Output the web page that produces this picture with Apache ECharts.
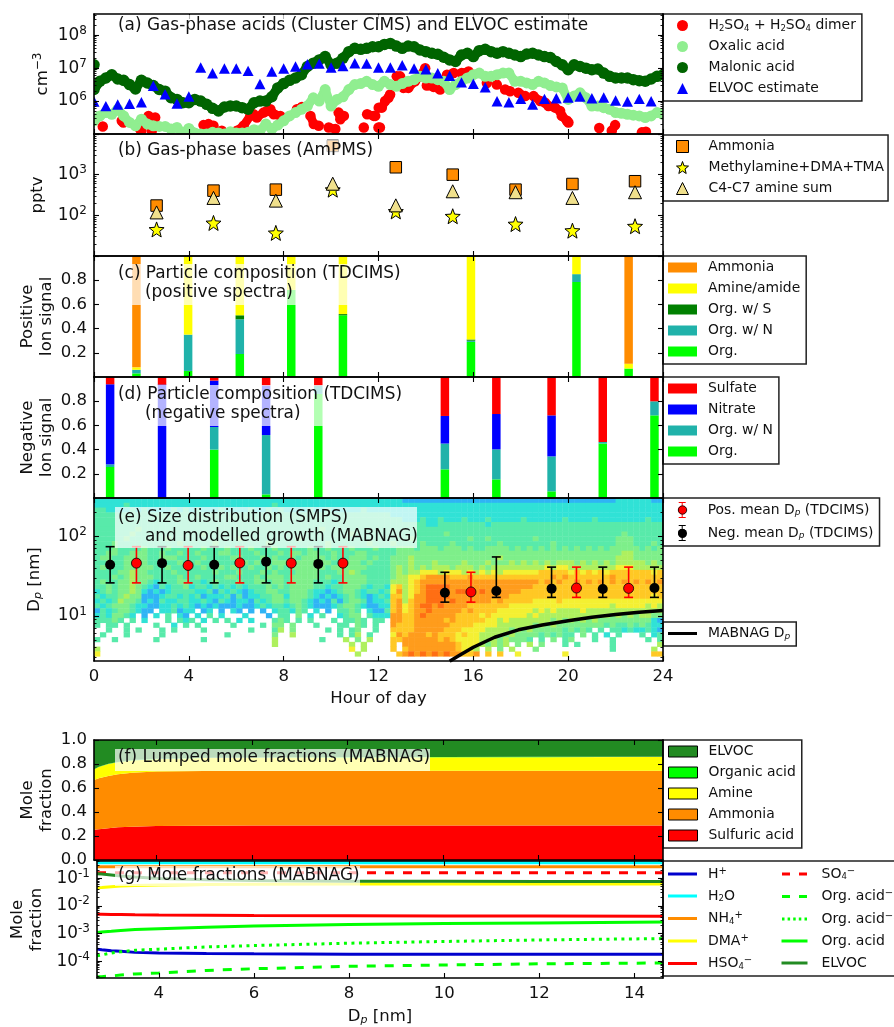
<!DOCTYPE html>
<html>
<head>
<meta charset="utf-8">
<style>html,body{margin:0;padding:0;background:#fff}#c{width:894px;height:1027px}</style>
<script src="https://cdn.jsdelivr.net/npm/echarts@6/dist/echarts.min.js"></script>
</head>
<body>
<div id="c"></div>
<script>
// ---------- DATA ----------
const quarterHours = Array.from({length: 97}, (_, i) => i / 4);
const malonicLog10 = [6.35,6.6,6.7,6.8,6.67,6.63,6.5,6.37,6.63,6.55,6.47,6.35,6.3,6.1,6.05,5.95,5.95,6.05,6.0,5.9,5.78,5.7,5.82,5.85,5.85,5.8,5.75,5.95,6.0,6.0,6.13,6.4,6.53,6.63,6.7,6.8,7.05,7.15,7.25,7.35,7.1,7.15,7.3,7.5,7.6,7.57,7.6,7.65,7.65,7.72,7.75,7.67,7.6,7.67,7.65,7.55,7.5,7.45,7.42,7.33,7.25,7.2,7.4,7.45,7.35,7.53,7.57,7.5,7.45,7.5,7.45,7.4,7.35,7.43,7.45,7.4,7.35,7.32,7.2,7.1,6.95,7.1,7.05,7.0,6.95,6.97,6.85,6.75,6.7,6.7,6.7,6.65,6.62,6.6,6.67,6.75,6.8];
const malonicExtra = [0, 7.1];
const oxalicLog10 = [5.4,5.55,5.65,5.6,5.75,5.55,5.35,5.25,5.45,5.3,5.25,5.23,5.23,5.15,5.2,5.03,5.17,5.03,5.0,5.0,5.05,5.03,5.0,5.07,5.03,5.03,5.05,5.13,5.1,5.3,5.15,5.27,5.4,5.55,5.65,5.75,5.85,6.1,6.0,6.35,5.85,6.05,6.13,6.35,6.5,6.53,6.6,6.5,6.45,6.6,6.5,6.45,6.53,6.6,6.65,6.75,6.7,6.7,6.65,6.6,6.35,6.5,6.6,6.7,6.8,6.85,6.75,6.75,6.8,6.85,6.85,6.6,6.6,6.55,6.5,6.6,6.55,6.47,6.43,6.4,6.05,6.15,6.25,6.1,5.85,5.85,5.8,5.75,5.65,5.63,5.6,5.57,5.55,5.5,5.55,5.65,5.6];
const sulfuricHours = [.37,1.17,1.24,1.94,2.0,2.3,2.44,2.5,2.58,4.62,4.83,5.04,5.39,5.75,6.03,6.31,6.59,6.73,6.87,7.15,7.3,7.44,7.58,7.86,8.56,8.77,9.13,9.27,9.48,9.9,10.18,10.32,10.39,10.54,11.38,11.52,11.8,11.86,12.0,12.01,12.06,12.14,12.28,12.42,12.49,12.77,12.91,13.05,13.26,13.54,13.75,13.97,14.04,14.32,14.6,14.89,15.17,15.51,15.8,16.57,16.99,17.34,17.55,17.9,18.19,18.54,18.82,19.03,19.17,19.45,19.66,19.73,19.95,20.01,21.31,21.84,21.98,23.11,23.28];
const sulfuricLog10 = [5.23,5.4,5.35,5.15,5.1,5.55,5.1,5.45,5.5,5.27,5.3,5.25,5.1,5.03,5.1,5.25,5.55,5.6,5.5,5.65,5.7,5.75,5.6,5.55,5.75,5.82,5.55,5.3,5.25,5.2,5.15,5.65,5.45,5.55,5.2,5.6,5.55,5.55,5.2,5.8,5.2,5.8,6.0,6.1,6.2,6.75,6.75,6.4,6.4,6.6,6.75,7.0,6.47,6.43,6.35,6.8,6.85,6.85,6.9,6.55,6.5,6.35,6.3,6.25,6.15,6.15,6.0,5.95,5.85,5.8,5.7,5.55,5.4,5.35,5.18,5.1,5.27,5.05,5.07];
const elvocHours = [0,.5,1,1.5,2,2.5,3,3.5,4,4.5,5,5.5,6,6.5,7,7.5,8,8.5,9,9.5,10,10.5,11,11.5,12,12.5,13,13.5,14,14.5,15,15.5,16,16.5,17,17.5,18,18.5,19,19.5,20,20.5,21,21.5,22,22.5,23,23.5];
const elvocLog10 = [5.97,5.83,5.88,5.9,5.95,6.45,6.19,5.91,6.12,7.0,6.83,6.97,6.97,6.9,6.5,6.88,6.97,7.03,7.1,7.12,7.0,7.05,7.13,7.12,7.0,7.0,7.07,6.97,6.95,6.83,6.75,6.55,6.51,6.4,5.98,5.95,6.05,5.88,6.05,6.07,6.09,6.12,6.07,6.09,6.0,5.97,6.05,5.98];

const baseHours = [2.64,5.04,7.67,10.07,12.73,15.13,17.78,20.18,22.82];
const ammoniaPptv = [174,405,428,5100,1520,1000,428,590,690];
const methylaminePptv = [45,65,37,428,125,95,61,42,54];
const amineSumPptv = [118,268,230,600,176,390,370,268,370];

const posHours = [1.79,3.97,6.15,8.32,10.5,15.9,20.35,22.55];
const posOrg = [.03,.05,.19,.72,.51,.29,.785,.07];
const posOrgN = [.03,.30,.287,0,0,.01,.065,0];
const posOrgS = [0,0,.033,0,.01,.01,0,0];
const posAmine = [.02,.65,.49,.28,.48,.69,.15,.04];
const posAmmonia = [.92,0,0,0,0,0,0,.89];

const negHours = [.68,2.87,5.07,7.26,9.46,14.8,16.97,19.3,21.46,23.64];
const negOrg = [.256,0,.40,.03,.86,.237,.154,.055,.45,.683];
const negOrgN = [.022,0,.187,.49,.07,.213,.248,.289,.013,.116];
const negNitrate = [.662,.937,.383,.41,0,.228,.292,.339,0,0];
const negSulfate = [.06,.063,.03,.07,.07,.322,.306,.317,.537,.201];

const posDpHours = [1.79,3.97,6.15,8.32,10.5,15.9,20.35,22.55];
const posDp = [46,43,46.3,46,46,20,22.4,22.2];
const posDpHigh = [74,74,74,74,74,35.3,41,41];
const posDpLow = [26,26,26,26,26,14.9,17.1,17.1];
const negDpHours = [.68,2.87,5.07,7.26,9.46,14.8,16.97,19.3,21.46,23.64];
const negDp = [44,46,44,48,45,19.5,20.6,22,21.8,22.4];
const negDpHigh = [74,74,74,74,74,35.3,55,41,41,41];
const negDpLow = [26,26,26,26,26,14.9,17.1,17.1,17.1,17.1];
const mabnagHours = [15,15.4,16,16.9,17.9,18.9,20,21,22,23,24];
const mabnagDp = [2.7,3.18,4.05,5.4,6.7,7.7,8.7,9.6,10.4,11.1,11.7];

// Size distribution: one string per size bin (largest first), one character per 15 min.
// 0-9 = colour level, . = no data.
const sizeDist = [
"2222222222222222 2222222222222222 2222222222222222 2222111111111111 1111111111111111 1111111122222211",
"2222232222222222 2222222222222232 2222222222222222 2222222222222222 2222222222222222 2222222222222222",
"3322223232222323 2322232222322323 2222322322222322 2222222222222222 2222222222222222 2222222222222222",
"3333333333333333 3333333333333333 3333333333333333 3322222222222222 2222222222222222 2222222222222222",
"3333333333333333 3333333333333333 3333333333333333 3333222322322232 2232222232222223 2222322222222322",
"3333333333333333 3333333333333333 3333333333333333 3333333322333333 3323333333333333 3333333333333333",
"3333333433333333 3333333333333333 3333334333333333 3333333333333333 3333333333333333 3333333333333333",
"3333334333333333 3343333333333333 3333333333343333 3333333333343333 3333333333333333 3333333334333333",
"3333343333334333 3333333343333333 3343333333333333 3333343333333334 3343333333433333 3333333344433333",
"3334333333333343 3333433333333433 3333333433333343 3343333433334333 3333433333333433 3333333344433343",
"3334333343334333 3343334333433343 3333433433343334 3334443444344434 3344443434343434 3434343444443434",
"3344334443343343 3433344333343334 3443443343334433 3334444444444444 4444444444444444 4444444445544444",
"3443344443344433 3343333443334343 3434444343344434 3344454444444444 4444544444444444 4444444455544444",
"3343344443343343 3433433334343344 4344444433444343 3344454445444454 4454445454545455 5454545455555454",
"3433344444334334 3343343433433434 3444444344444433 3345454545554555 4545555555556566 5555555566655555",
"3333445443333433 3333433343334343 3344443334454333 3345455666566656 5656566666677777 6767676777777767",
"3334345444333343 3433334433343444 3444443433444433 3345566788887778 7777777777777878 7777777877777777",
"3433445443233344 3323433343344344 3444433323444433 3355567888888888 8888888888878787 7878787878787878",
"3343445432132334 2332323232333434 3444433233444323 3267567899998888 8888888888777777 7777777777777777",
"2343445421212333 3223132321233443 3444322123443233 2368567899998998 8988888877777777 7777777777777777",
"3233454411123323 2312223131223344 2444321212343212 3277568899998888 8888887777777777 7777777777777767",
"2323544312132233 2232132122132344 3443212131344312 2378578899989888 8887877777666676 6666666666666666",
"3234443221122323 2121211121123233 2343211123443211 2278678998988887 7777776666666666 6666666566666565",
"1323443211.22312 2.12.1.21.1.1.23 3243.2.1.3343.21 1378678898888878 7777666666565655 5565555555555555",
"2324432.1.2.3.21 .2.3.2...2...1.3 3.4.2.3..2344.32 2288778988888777 7676666665655555 5555555454545544",
"33343.3.2...3.32 3.2.3.3.2.2...34 3.3.3...3.3343.3 3.88778888878777 7766565555555454 5454544444444421",
"3.33.3....3..2.3 .3.....3....3.44 .4...3...33.43.3 ..87778888887777 6666555555454544 4444443433434322",
"..3..3.3...3.3.. ..3.......3...35 .4.....3.3.34..3 ..77778888877766 6655554545444443 4343.3.332322321",
".3...3.....3.... ......3.......4. .5.......3.35.3. ..68788878777676 6555545444434343 3.4.3.2.3...3.23",
"3..3......3..... ..3...........5. ......3...5.4.5. ..77888888787666 6555454443.3.4.3 4...3..3.....3.3",
"................ ..............5. ...........5.5.. ..7.888888888766 654545.4.5.4...3 .3.....3.......5",
"5............... ................ ...........6.5.. ..7.788888888766 5.5.4.5...4..... .......3......5.",
"6............... ................ ............5... ...7898989898877 8.7.7..6.......6 ..............77",
"................ ................ ................ ................ ................ ................"
];

const massDiam = [2.7,2.8,3,3.2,3.5,4,5,6,8,10,12,14.6];
const lumpSulfuric = [.252,.257,.265,.272,.278,.283,.285,.287,.287,.287,.287,.287];
const lumpAmmonia = [.415,.425,.435,.443,.45,.454,.456,.456,.457,.457,.457,.457];
const lumpAmine = [.088,.093,.10,.10,.102,.103,.109,.109,.111,.112,.113,.114];
const lumpOrgAcid = [.002,.002,.002,.002,.003,.003,.003,.003,.003,.003,.003,.003];
const lumpElvoc = [.243,.223,.198,.183,.167,.157,.147,.145,.142,.141,.14,.139];

const fracH2O = [.36,.36,.36,.36,.36,.36,.36,.36,.36,.36,.36,.36];
const fracNH4 = [.257,.257,.257,.257,.257,.257,.257,.257,.257,.257,.257,.257];
const fracSO4 = [.158,.158,.158,.158,.158,.158,.158,.158,.158,.158,.158,.158];
const fracElvoc = [.145,.14,.13,.12,.11,.098,.087,.082,.078,.077,.076,.076];
const fracDMA = [.045,.046,.049,.052,.054,.057,.059,.06,.061,.061,.062,.062];
const fracHSO4 = [.005,.005,.0049,.0049,.0048,.0047,.0046,.0045,.0044,.0043,.0043,.0042];
const fracOrgAcid = [.0011,.00115,.00122,.0013,.0014,.0015,.0017,.00186,.00213,.00229,.00243,.00263];
const fracOrgAcid2 = [.000158,.00017,.0002,.00022,.00025,.000275,.00033,.00037,.00045,.00052,.00059,.00066];
const fracH = [.000275,.00026,.00024,.00023,.00021,.0002,.00019,.000186,.00018,.00018,.000178,.000178];
const fracOrgAcid1 = [2.76e-5,2.8e-5,2.95e-5,3.2e-5,3.5e-5,3.8e-5,4.7e-5,5.4e-5,6.6e-5,7.4e-5,8.1e-5,8.7e-5];

const hourTicks = [0,4,8,12,16,20,24];
const sizeTicks = [4,6,8,10,12,14];

// ---------- HELPERS ----------
const FONT = '"DejaVu Sans"';
const INK = '#111';
const zip = (a, b) => a.map((v, i) => [v, b[i]]);
const pow10 = a => a.map(v => Math.pow(10, v));
const logMinor = (lo, hi) => { const o = []; for (let e = Math.floor(lo); e <= Math.ceil(hi); e++) for (let m = 2; m < 10; m++) { const v = e + Math.log10(m); if (v >= lo && v <= hi) o.push(v); } return o; };
const intRange = (lo, hi) => { const o = []; for (let e = Math.ceil(lo); e <= Math.floor(hi); e++) o.push(e); return o; };

const richTick = {
  base: {fontFamily: FONT, fontSize: 16.9, color: INK},
  sup: {fontFamily: FONT, fontSize: 12, color: INK, padding: [0, 0, 9, 0]}
};
const richName = {
  sup: {fontFamily: FONT, fontSize: 12, color: INK, padding: [0, 0, 9, 0]},
  sub: {fontFamily: FONT, fontSize: 11, fontStyle: 'italic', color: INK, padding: [7, 0, 0, 0]}
};
const grids = [], xAxes = [], yAxes = [];
const spine = {show: true, onZero: false, lineStyle: {color: '#000', width: 1.6}};

function panel(cfg) {
  const g = grids.length;
  grids.push({left: 94, width: 569, top: cfg.top, height: cfg.height, containLabel: false, show: false});
  const xi = xAxes.length;
  const xBase = {type: 'value', gridIndex: g, min: cfg.xMin, max: cfg.xMax, splitLine: {show: false}, z: 5, axisLine: spine,
    axisTick: {show: true, inside: true, length: 5, customValues: cfg.xTicks, lineStyle: {color: '#000', width: 1.1}}};
  xAxes.push(Object.assign({}, xBase, {position: 'bottom',
    axisLabel: cfg.xName ? {show: true, customValues: cfg.xTicks, margin: 7, fontFamily: FONT, fontSize: 16.5, color: INK, showMinLabel: true, showMaxLabel: true} : {show: false},
    name: cfg.xName || '', nameLocation: 'middle', nameGap: cfg.xNameGap || 30,
    nameTextStyle: {fontFamily: FONT, fontSize: 16.5, color: INK, rich: richName}}));
  xAxes.push(Object.assign({}, xBase, {position: 'top', axisLabel: {show: false}}));

  const yi = yAxes.length;
  const lin = cfg.log ? [Math.log10(cfg.yMin), Math.log10(cfg.yMax)] : [cfg.yMin, cfg.yMax];
  const major = cfg.log ? intRange(lin[0], lin[1]) : cfg.yTicks;
  const labels = cfg.yLabels;
  const fmt = cfg.log ? v => `{base|10}{sup|${v}}` : v => v.toFixed(1);
  yAxes.push({type: cfg.log ? 'log' : 'value', logBase: 10, gridIndex: g, position: 'left', min: cfg.yMin, max: cfg.yMax, z: 5,
    axisLine: spine, axisTick: {show: false}, axisLabel: {show: false}, splitLine: {show: false},
    name: cfg.yName, nameLocation: 'middle', nameRotate: 90, nameGap: cfg.yNameGap,
    nameTextStyle: {fontFamily: FONT, fontSize: 16.5, lineHeight: 19, color: INK, rich: richName}});
  const tickLeft = {type: 'value', gridIndex: g, position: 'left', min: lin[0], max: lin[1], z: 5, splitLine: {show: false},
    axisLine: {show: false, onZero: false},
    axisTick: {show: true, inside: true, length: 5, customValues: major, lineStyle: {color: '#000', width: 1.1}}};
  yAxes.push(Object.assign({}, tickLeft, {axisLabel: {show: true, customValues: labels, formatter: fmt, margin: 7, fontFamily: FONT, fontSize: 16.5, color: INK, rich: richTick, showMinLabel: true, showMaxLabel: true}}));
  yAxes.push(Object.assign({}, tickLeft, {position: 'right', axisLine: spine, axisLabel: {show: false}}));
  if (cfg.log) {
    const minor = logMinor(lin[0], lin[1]);
    const m = Object.assign({}, tickLeft, {axisLabel: {show: false},
      axisTick: {show: true, inside: true, length: 2.5, customValues: minor, lineStyle: {color: '#000', width: .9}}});
    yAxes.push(m);
    yAxes.push(Object.assign({}, m, {position: 'right'}));
  }
  return {xAxisIndex: xi, yAxisIndex: yi};
}

const axA = panel({top: 14, height: 120, xMin: 0, xMax: 24, xTicks: hourTicks, log: true, yMin: 1e5, yMax: 4.4e8, yLabels: [6, 7, 8], yName: 'cm{sup|−3}', yNameGap: 42});
const axB = panel({top: 134, height: 122, xMin: 0, xMax: 24, xTicks: hourTicks, log: true, yMin: 10, yMax: 1e4, yLabels: [2, 3], yName: 'pptv', yNameGap: 47});
const axC = panel({top: 256, height: 121, xMin: 0, xMax: 24, xTicks: hourTicks, yMin: 0, yMax: 1, yTicks: [.2,.4,.6,.8], yLabels: [.2,.4,.6,.8], yName: 'Positive\nIon signal', yNameGap: 38});
const axD = panel({top: 377, height: 121, xMin: 0, xMax: 24, xTicks: hourTicks, yMin: 0, yMax: 1, yTicks: [.2,.4,.6,.8], yLabels: [.2,.4,.6,.8], yName: 'Negative\nIon signal', yNameGap: 38});
const axE = panel({top: 498, height: 163, xMin: 0, xMax: 24, xTicks: hourTicks, xName: 'Hour of day', xNameGap: 29, log: true, yMin: 2.72, yMax: 302, yLabels: [1, 2], yName: 'D{sub|p} [nm]', yNameGap: 50});
const axF = panel({top: 740, height: 120, xMin: 2.7, xMax: 14.6, xTicks: sizeTicks, yMin: 0, yMax: 1, yTicks: [0,.2,.4,.6,.8,1], yLabels: [0,.2,.4,.6,.8,1], yName: 'Mole\nfraction', yNameGap: 38});
const axG = panel({top: 861, height: 121, xMin: 2.7, xMax: 14.6, xTicks: sizeTicks, xName: 'D{sub|p} [nm]', xNameGap: 30, log: true, yMin: 2.5e-5, yMax: .415, yLabels: [-1,-2,-3,-4], yName: 'Mole\nfraction', yNameGap: 51});

// ---------- SERIES ----------
const series = [];
function marks(ax, name, xs, ys, shape, color, size, joinDx, joinDy) {
  series.push(Object.assign({type: 'custom', name, clip: true, z: 3, animation: false, silent: true, progressive: 0,
    itemStyle: {color},
    encode: {x: 0, y: 1},
    data: zip(xs, ys),
    renderItem: (p, api) => {
      const c = api.coord([api.value(0), api.value(1)]);
      if (shape === 'circle') {
        const kids = [{type: 'circle', shape: {cx: c[0], cy: c[1], r: size / 2}, style: {fill: color}}];
        const i = p.dataIndex;
        if (joinDx && i + 1 < xs.length) {
          const dx = xs[i + 1] - xs[i], dy = Math.abs(Math.log10(ys[i + 1] / ys[i]));
          if (dx > 0 && dx <= joinDx && dy <= joinDy) {
            const n = api.coord([xs[i + 1], ys[i + 1]]);
            kids.push({type: 'line', shape: {x1: c[0], y1: c[1], x2: n[0], y2: n[1]}, style: {stroke: color, lineWidth: size * .82, lineCap: 'round'}});
          }
        }
        return {type: 'group', children: kids};
      }
      const r = size / 2;
      return {type: 'polygon', shape: {points: [[c[0], c[1] - r * 1.05], [c[0] + r, c[1] + r * .85], [c[0] - r, c[1] + r * .85]]}, style: {fill: color}};
    }}, ax));
}
marks(axA, 'a:sulfuric', sulfuricHours, pow10(sulfuricLog10), 'circle', '#ff0000', 10.5, .3, .3);
marks(axA, 'a:oxalic', quarterHours, pow10(oxalicLog10), 'circle', '#90ee90', 11, .26, .6);
marks(axA, 'a:malonic', quarterHours.concat(malonicExtra[0]), pow10(malonicLog10.concat(malonicExtra[1])), 'circle', '#006400', 11.5, .26, .6);
marks(axA, 'a:elvoc', elvocHours, pow10(elvocLog10), 'triangle', '#0000ff', 11);

const STAR = 'path://M12,0L15,8.6L24,9.2L17,15L19.4,24L12,19L4.6,24L7,15L0,9.2L9,8.6Z';
const SQUARE = 'path://M0,0H10V10H0Z';
const TRI = 'path://M5,0L10,10H0Z';
const edged = {borderColor: '#000', borderWidth: 1};
const solid = c => Object.assign({color: c, opacity: 1}, edged);
series.push(Object.assign({type: 'scatter', name: 'b:ammonia', symbol: 'rect', symbolSize: 11.5, z: 3, itemStyle: solid('#ff8c00'), data: zip(baseHours, ammoniaPptv)}, axB));
series.push(Object.assign({type: 'scatter', name: 'b:methyl', symbol: STAR, symbolSize: 15, z: 3, itemStyle: solid('#ffff00'), data: zip(baseHours, methylaminePptv)}, axB));
series.push(Object.assign({type: 'scatter', name: 'b:c4c7', symbol: 'triangle', symbolSize: 13, z: 3, itemStyle: solid('#f0e08c'), data: zip(baseHours, amineSumPptv)}, axB));

// stacked marks: value first, hour second, so that the stack sums the value column
function bars(ax, stack, name, xs, ys, color) {
  series.push(Object.assign({type: 'bar', name, stack, barWidth: 8.5, z: 2, itemStyle: {color}, encode: {x: 1, y: 0}, data: zip(ys, xs)}, ax));
}
bars(axC, 'c', 'c:org', posHours, posOrg, '#00ff00');
bars(axC, 'c', 'c:orgn', posHours, posOrgN, '#20b2aa');
bars(axC, 'c', 'c:orgs', posHours, posOrgS, '#008000');
bars(axC, 'c', 'c:amine', posHours, posAmine, '#ffff00');
bars(axC, 'c', 'c:ammonia', posHours, posAmmonia, '#ff8c00');
bars(axD, 'd', 'd:org', negHours, negOrg, '#00ff00');
bars(axD, 'd', 'd:orgn', negHours, negOrgN, '#20b2aa');
bars(axD, 'd', 'd:nitrate', negHours, negNitrate, '#0000ff');
bars(axD, 'd', 'd:sulfate', negHours, negSulfate, '#ff0000');

// size distribution cells
const levelColors = ['#1f5cf0','#2fb4f5','#30e2d6','#58eaaa','#7eef8a','#aef05e','#f4f032','#ffc824','#ff9c1c','#ff6e14'];
const rows = sizeDist.map(r => r.replace(/ /g, ''));
const cells = [];
const binTop = Math.log10(302), binStep = (Math.log10(302) - Math.log10(2.72)) / rows.length;
rows.forEach((row, r) => {
  for (let c = 0; c < row.length; c++) {
    if (row[c] === '.') continue;
    cells.push([c / 4, (c + 1) / 4, Math.pow(10, binTop - r * binStep), Math.pow(10, binTop - (r + 1) * binStep), +row[c]]);
  }
});
series.push(Object.assign({type: 'custom', name: 'e:dist', clip: true, z: 1, silent: true, progressive: 0, animation: false,
  encode: {x: [0, 1], y: [2, 3]}, data: cells,
  renderItem: (p, api) => {
    const a = api.coord([api.value(0), api.value(2)]), b = api.coord([api.value(1), api.value(3)]);
    return {type: 'rect', shape: {x: a[0], y: a[1], width: b[0] - a[0] + .4, height: b[1] - a[1] + .4}, style: {fill: levelColors[api.value(4)]}};
  }}, axE));

function errorBars(name, xs, lows, highs, color) {
  series.push(Object.assign({type: 'custom', name, clip: true, z: 3, silent: true, animation: false,
    encode: {x: 0, y: [1, 2]}, data: xs.map((x, i) => [x, lows[i], highs[i]]),
    renderItem: (p, api) => {
      const lo = api.coord([api.value(0), api.value(1)]), hi = api.coord([api.value(0), api.value(2)]);
      const st = {stroke: color, lineWidth: 1.6, fill: 'none'}, cap = 4.5;
      return {type: 'group', children: [
        {type: 'line', shape: {x1: lo[0], y1: lo[1], x2: hi[0], y2: hi[1]}, style: st},
        {type: 'line', shape: {x1: lo[0] - cap, y1: lo[1], x2: lo[0] + cap, y2: lo[1]}, style: st},
        {type: 'line', shape: {x1: hi[0] - cap, y1: hi[1], x2: hi[0] + cap, y2: hi[1]}, style: st}]};
    }}, axE));
}
errorBars('e:poserr', posDpHours, posDpLow, posDpHigh, '#ff0000');
errorBars('e:negerr', negDpHours, negDpLow, negDpHigh, '#000');
series.push(Object.assign({type: 'scatter', name: 'e:pos', symbol: 'circle', symbolSize: 10, z: 4, itemStyle: {color: '#ff0000', opacity: 1, borderColor: '#000', borderWidth: .8}, data: zip(posDpHours, posDp)}, axE));
series.push(Object.assign({type: 'scatter', name: 'e:neg', symbol: 'circle', symbolSize: 10, z: 4, itemStyle: {color: '#000', opacity: 1}, data: zip(negDpHours, negDp)}, axE));
series.push(Object.assign({type: 'line', name: 'e:mabnag', showSymbol: false, symbol: 'none', clip: true, z: 4, lineStyle: {color: '#000', width: 3.5, join: 'round'}, data: zip(mabnagHours, mabnagDp)}, axE));

function area(name, ys, color) {
  series.push(Object.assign({type: 'line', name, stack: 'f', showSymbol: false, symbol: 'none', z: 2, color, encode: {x: 1, y: 0},
    lineStyle: {width: 0, color}, areaStyle: {color, opacity: 1}, itemStyle: {color}, data: zip(ys, massDiam)}, axF));
}
area('f:sulfuric', lumpSulfuric, '#ff0000');
area('f:ammonia', lumpAmmonia, '#ff8c00');
area('f:amine', lumpAmine, '#ffff00');
area('f:orgacid', lumpOrgAcid, '#00ff00');
area('f:elvoc', lumpElvoc, '#228b22');

function gline(name, ys, color, type) {
  series.push(Object.assign({type: 'line', name, showSymbol: false, symbol: 'none', clip: true, z: 3, color,
    lineStyle: {color, width: 3, type: type || 'solid'}, itemStyle: {color}, data: zip(massDiam, ys)}, axG));
}
gline('g:h', fracH, '#0000cd');
gline('g:h2o', fracH2O, '#00ffff');
gline('g:nh4', fracNH4, '#ff8c00');
gline('g:dma', fracDMA, '#ffff00');
gline('g:hso4', fracHSO4, '#ff0000');
gline('g:so4', fracSO4, '#ff0000', [9, 9]);
gline('g:orgm', fracOrgAcid1, '#00ff00', [9, 9]);
gline('g:orgm2', fracOrgAcid2, '#00ff00', [3, 4.5]);
gline('g:org', fracOrgAcid, '#00ff00');
gline('g:elvoc', fracElvoc, '#228b22');

// ---------- LEGENDS ----------
const legendLabels = {
  'a:sulfuric': 'H{s|2}SO{s|4} + H{s|2}SO{s|4} dimer', 'a:oxalic': 'Oxalic acid', 'a:malonic': 'Malonic acid', 'a:elvoc': 'ELVOC estimate',
  'b:ammonia': 'Ammonia', 'b:methyl': 'Methylamine+DMA+TMA', 'b:c4c7': 'C4-C7 amine sum',
  'c:ammonia': 'Ammonia', 'c:amine': 'Amine/amide', 'c:orgs': 'Org. w/ S', 'c:orgn': 'Org. w/ N', 'c:org': 'Org.',
  'd:sulfate': 'Sulfate', 'd:nitrate': 'Nitrate', 'd:orgn': 'Org. w/ N', 'd:org': 'Org.',
  'e:pos': 'Pos. mean D{i|p} (TDCIMS)', 'e:neg': 'Neg. mean D{i|p} (TDCIMS)', 'e:mabnag': 'MABNAG D{i|p}',
  'f:elvoc': 'ELVOC', 'f:orgacid': 'Organic acid', 'f:amine': 'Amine', 'f:ammonia': 'Ammonia', 'f:sulfuric': 'Sulfuric acid',
  'g:h': 'H{u|+}', 'g:h2o': 'H{s|2}O', 'g:nh4': 'NH{s|4}{u|+}', 'g:dma': 'DMA{u|+}', 'g:hso4': 'HSO{s|4}{u|−}',
  'g:so4': 'SO{s|4}{u|−}', 'g:orgm': 'Org. acid{u|−}', 'g:orgm2': 'Org. acid{u|−2}', 'g:org': 'Org. acid', 'g:elvoc': 'ELVOC'
};
const legendRich = {
  s: {fontFamily: FONT, fontSize: 8.5, color: INK, padding: [6, 0, 0, 0]},
  u: {fontFamily: FONT, fontSize: 10, color: INK, padding: [0, 0, 6, 0]},
  i: {fontFamily: FONT, fontSize: 9, fontStyle: 'italic', color: INK, padding: [6, 0, 0, 0]}
};
const LEG = 13.9;
const legendText = (size, gap) => ({fontFamily: FONT, fontSize: size, color: INK, lineHeight: 15, padding: [0, 0, 0, gap], rich: legendRich});
function legendBox(left, top, items, opts) {
  return Object.assign({orient: 'vertical', left, top, selectedMode: false,
    data: items.map(it => typeof it === 'string' ? {name: it} : it),
    formatter: n => legendLabels[n],
    textStyle: legendText(LEG, 6),
    itemWidth: 29, itemHeight: 11, itemGap: 6, padding: [4, 6, 5, 5],
    backgroundColor: '#fff', borderColor: '#222', borderWidth: 1.5}, opts || {});
}
const rectIcon = (name, color) => ({name, icon: 'rect', itemStyle: {color}});
const boxIcon = (name, color) => ({name, icon: 'rect', itemStyle: {color, borderColor: '#000', borderWidth: 1}});
const ERR = 'path://M1,0H8V1H5V7.2H4V1H1Z M4,8.8H5V15H8V16H1V15H4Z M4.5,3.8A4.2,4.2 0 1 1 4.5,12.2A4.2,4.2 0 1 1 4.5,3.8Z';
const DASHED = 'path://M0,0H8V3H0Z M17,0H25V3H17Z';
const DOTTED = 'path://M0,0H2.5V3H0Z M5.6,0H8.1V3H5.6Z M11.2,0H13.7V3H11.2Z M16.8,0H19.3V3H16.8Z M22.5,0H25V3H22.5Z';
const gcol = {backgroundColor: 'transparent', borderWidth: 0, itemHeight: 3, itemGap: 7};
const legends = [
  legendBox(663, 14, [
    {name: 'a:sulfuric', icon: 'circle', itemStyle: {color: '#ff0000'}},
    {name: 'a:oxalic', icon: 'circle', itemStyle: {color: '#90ee90'}},
    {name: 'a:malonic', icon: 'circle', itemStyle: {color: '#006400'}},
    {name: 'a:elvoc', icon: TRI, itemStyle: {color: '#0000ff'}}], {padding: [4, 6, 5, 14], textStyle: legendText(LEG, 6.5)}),
  legendBox(663, 135, [
    {name: 'b:ammonia', icon: SQUARE, itemStyle: solid('#ff8c00')},
    {name: 'b:methyl', icon: STAR, itemStyle: solid('#ffff00')},
    {name: 'b:c4c7', icon: TRI, itemStyle: solid('#f0e08c')}], {itemHeight: 12, itemGap: 6, padding: [4, 4, 5, 13], textStyle: legendText(LEG, 6.5)}),
  legendBox(663, 256, [rectIcon('c:ammonia', '#ff8c00'), rectIcon('c:amine', '#ffff00'), rectIcon('c:orgs', '#008000'), rectIcon('c:orgn', '#20b2aa'), rectIcon('c:org', '#00ff00')], {itemHeight: 10}),
  legendBox(663, 377, [rectIcon('d:sulfate', '#ff0000'), rectIcon('d:nitrate', '#0000ff'), rectIcon('d:orgn', '#20b2aa'), rectIcon('d:org', '#00ff00')], {itemHeight: 10}),
  legendBox(663, 498, [
    {name: 'e:pos', icon: ERR, itemStyle: {color: '#ff0000', borderWidth: 0}},
    {name: 'e:neg', icon: ERR, itemStyle: {color: '#000', borderWidth: 0}}], {itemHeight: 16, itemGap: 7, padding: [4, 6, 5, 15]}),
  legendBox(663, 622, [{name: 'e:mabnag', icon: 'rect', itemStyle: {color: '#000'}}], {itemHeight: 3}),
  legendBox(663, 740, [boxIcon('f:elvoc', '#228b22'), boxIcon('f:orgacid', '#00ff00'), boxIcon('f:amine', '#ffff00'), boxIcon('f:ammonia', '#ff8c00'), boxIcon('f:sulfuric', '#ff0000')]),
  legendBox(663, 862, [rectIcon('g:h', '#0000cd'), rectIcon('g:h2o', '#00ffff'), rectIcon('g:nh4', '#ff8c00'), rectIcon('g:dma', '#ffff00'), rectIcon('g:hso4', '#ff0000')],
    Object.assign({textStyle: legendText(14, 6)}, gcol)),
  legendBox(776.5, 862, [
    {name: 'g:so4', icon: DASHED, itemStyle: {color: '#ff0000'}},
    {name: 'g:orgm', icon: DASHED, itemStyle: {color: '#00ff00'}},
    {name: 'g:orgm2', icon: DOTTED, itemStyle: {color: '#00ff00'}},
    rectIcon('g:org', '#00ff00'), rectIcon('g:elvoc', '#228b22')],
    Object.assign({itemWidth: 26, textStyle: legendText(14, 9)}, gcol))
];

// ---------- PANEL TITLES ----------
const titleBoxes = [
  [115, 15, 480, 22], [115, 140, 260, 22], [115, 264, 283, 41], [115, 385, 285, 41],
  [115, 507, 302, 41], [115, 749, 315, 22], [115, 866, 245, 20]
];
const titleLines = [
  ['(a) Gas-phase acids (Cluster CIMS) and ELVOC estimate', 118, 26],
  ['(b) Gas-phase bases (AmPMS)', 118, 151],
  ['(c) Particle composition (TDCIMS)', 118, 274],
  ['(positive spectra)', 145, 293],
  ['(d) Particle composition (TDCIMS)', 118, 395],
  ['(negative spectra)', 145, 414],
  ['(e) Size distribution (SMPS)', 118, 518],
  ['and modelled growth (MABNAG)', 145, 537],
  ['(f) Lumped mole fractions (MABNAG)', 118, 758],
  ['(g) Mole fractions (MABNAG)', 118, 876]
];
const graphicEls = [
  {type: 'rect', z: 1, shape: {x: 663, y: 861, width: 260, height: 115}, style: {fill: '#fff', stroke: '#222', lineWidth: 1.5}},
  {type: 'circle', z: 100, shape: {cx: 682.5, cy: 510, r: 4.2}, style: {fill: '#ff0000', stroke: '#000', lineWidth: .8}},
  {type: 'circle', z: 100, shape: {cx: 682.5, cy: 533.5, r: 4.5}, style: {fill: '#000'}}
];
titleBoxes.forEach(b => graphicEls.push({type: 'rect', z: 90, shape: {x: b[0], y: b[1], width: b[2], height: b[3]}, style: {fill: 'rgba(255,255,255,0.7)'}}));
titleLines.forEach(t => graphicEls.push({type: 'text', z: 100, x: t[1], y: t[2], style: {text: t[0], font: '16.9px ' + FONT, fill: INK, textVerticalAlign: 'middle', verticalAlign: 'middle'}}));

const chart = echarts.init(document.getElementById('c'), null, {width: 894, height: 1027, renderer: 'canvas'});
chart.setOption({
  animation: false, backgroundColor: '#fff',
  textStyle: {fontFamily: FONT},
  grid: grids, xAxis: xAxes, yAxis: yAxes, series, legend: legends,
  graphic: {elements: graphicEls}
});
</script>
</body>
</html>
